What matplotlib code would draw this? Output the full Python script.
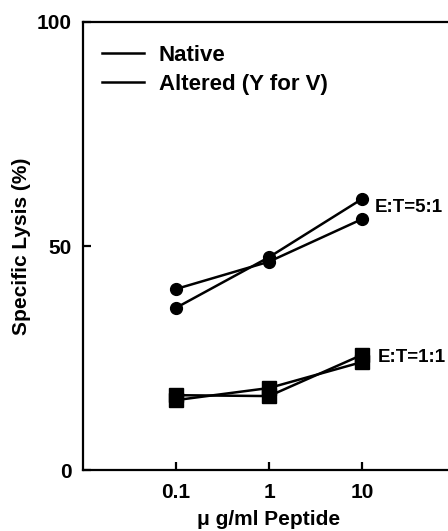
import matplotlib
matplotlib.use('Agg')
import matplotlib.pyplot as plt
from matplotlib.lines import Line2D

plt.rcParams['font.family'] = ['Liberation Sans', 'DejaVu Sans']
plt.rcParams['font.weight'] = 'bold'
plt.rcParams['axes.labelweight'] = 'bold'

# peptide concentration (ug/ml)
conc = [0.1, 1, 10]

# E:T = 5:1 (circles)
native_5 = [40.4, 46.5, 56.0]
altered_5 = [36.2, 47.5, 60.5]
# E:T = 1:1 (squares)
native_1 = [16.7, 16.5, 25.7]
altered_1 = [15.6, 18.3, 24.1]

xticks = [0.1, 1, 10]
xticklabels = ['0.1', '1', '10']
yticks = [0, 50, 100]

fs = 15

fig = plt.figure(figsize=(4.48, 5.31), dpi=100)
ax = fig.add_axes([83 / 448, 1 - 470 / 531, 372 / 448, 448 / 531])

lw = 1.8
for ys in (native_5, altered_5):
    ax.plot(conc, ys, color='k', lw=lw, marker='o', markersize=8.5, clip_on=False)
for ys in (native_1, altered_1):
    ax.plot(conc, ys, color='k', lw=lw, marker='s', markersize=9.5, clip_on=False)

ax.set_xscale('log')
ax.set_xlim(0.01, 100)
ax.set_ylim(0, 100)
ax.set_xticks(xticks)
ax.set_xticklabels(xticklabels)
ax.minorticks_off()
ax.set_yticks(yticks)

ax.spines['right'].set_visible(False)
for s in ('left', 'top', 'bottom'):
    ax.spines[s].set_linewidth(1.6)
ax.tick_params(direction='in', length=6, width=1.6, labelsize=fs, pad=8)
ax.tick_params(axis='x', pad=9)

ax.set_ylabel('Specific Lysis (%)', fontsize=fs, labelpad=4)
ax.set_xlabel('\u03bc g/ml Peptide', fontsize=fs, labelpad=6)

ax.text(13.8, 58.7, 'E:T=5:1', fontsize=13.5, va='center')
ax.text(14.8, 25.2, 'E:T=1:1', fontsize=13.5, va='center')

handles = [Line2D([], [], color='k', lw=lw), Line2D([], [], color='k', lw=lw)]
ax.legend(handles, ['Native', 'Altered (Y for V)'], loc='upper left', frameon=False,
          fontsize=16, handlelength=1.9, handletextpad=0.65, labelspacing=0.35,
          borderpad=0, borderaxespad=0, bbox_to_anchor=(19 / 372, 1 - 23 / 448))

fig.savefig('out.png', dpi=100)
